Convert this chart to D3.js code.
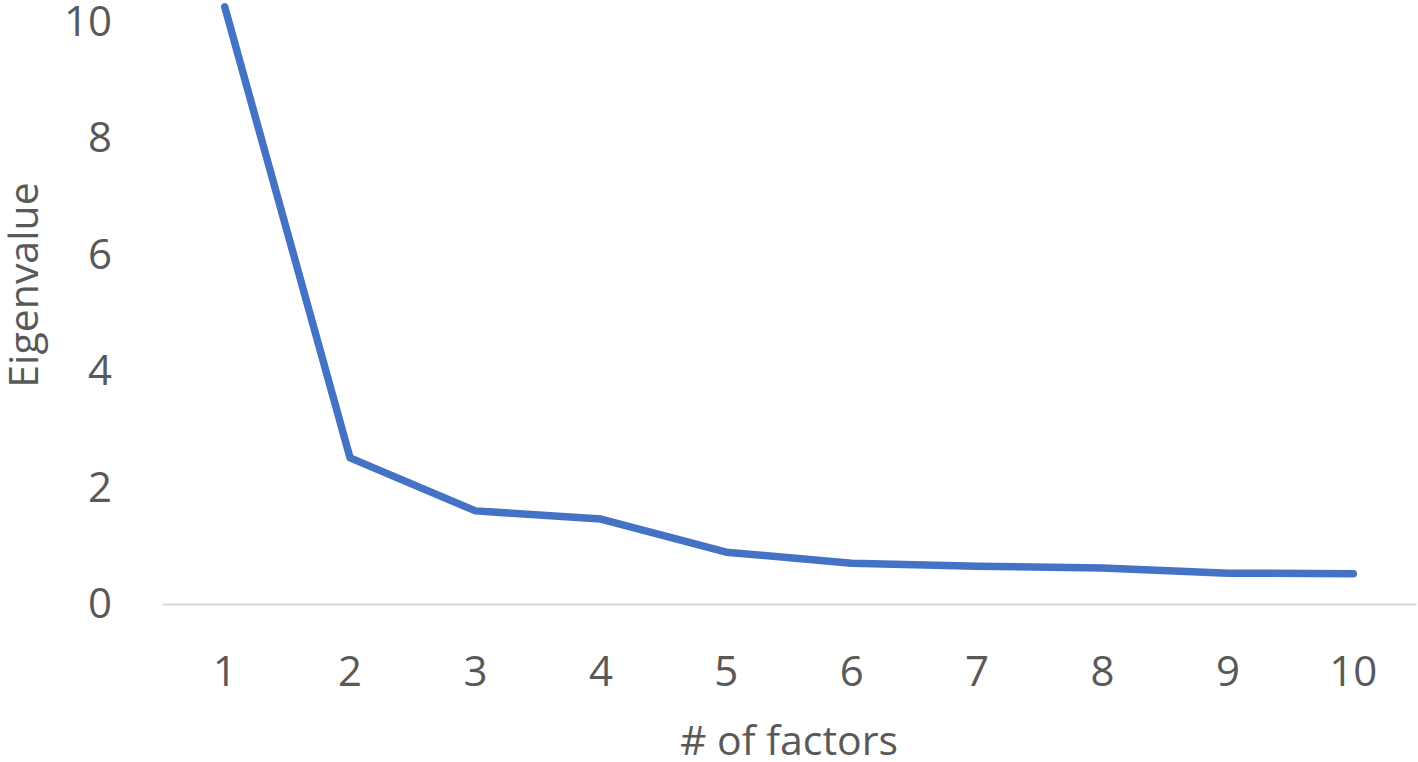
<!DOCTYPE html>
<html lang="en">
<head>
    <meta charset="UTF-8">
    <title>Scree plot</title>
    <script src="https://d3js.org/d3.v7.min.js"></script>
    <style>
        body { margin: 0; background: #fff; }
        svg text { font-family: "Open Sans", "Liberation Sans", sans-serif; fill: #595959; }
    </style>
</head>
<body>
    <svg id="chart" width="1418" height="762"></svg>
    <script>
        const factors = [1, 2, 3, 4, 5, 6, 7, 8, 9, 10];
        const eigenvalues = [10.26, 2.51, 1.60, 1.46, 0.89, 0.70, 0.65, 0.62, 0.53, 0.52];
        const yTicks = [0, 2, 4, 6, 8, 10];

        const svg = d3.select("#chart");
        const margin = { top: 22, right: 2, bottom: 158, left: 162 };
        const width = +svg.attr("width");
        const height = +svg.attr("height");
        const graphWidth = width - margin.left - margin.right;
        const graphHeight = height - margin.top - margin.bottom;

        const g = svg.append("g")
            .attr("transform", `translate(${margin.left},${margin.top})`);

        const x = d3.scaleBand()
            .domain(factors)
            .range([0, graphWidth]);

        const y = d3.scaleLinear()
            .domain([0, 10])
            .range([graphHeight, 0]);

        // x axis
        const xAxis = g.append("g")
            .attr("transform", `translate(0,${graphHeight})`)
            .call(d3.axisBottom(x).tickSize(0).tickPadding(52));
        xAxis.select(".domain").attr("stroke", "#d9d9d9").attr("stroke-width", 2);
        xAxis.selectAll("text").style("font-size", "42px").attr("fill", "#595959");

        // y axis (labels only)
        const yAxis = g.append("g")
            .call(d3.axisLeft(y).tickValues(yTicks).tickSize(0).tickPadding(50));
        yAxis.select(".domain").remove();
        yAxis.selectAll("text").style("font-size", "42px").attr("fill", "#595959");

        const line = d3.line()
            .x((d, i) => x(factors[i]) + x.bandwidth() / 2)
            .y(d => y(d));

        g.append("path")
            .datum(eigenvalues)
            .attr("fill", "none")
            .attr("stroke", "#4472c4")
            .attr("stroke-width", 7.5)
            .attr("stroke-linejoin", "round")
            .attr("stroke-linecap", "round")
            .attr("d", line);

        svg.append("text")
            .attr("x", margin.left + graphWidth / 2)
            .attr("y", 755)
            .attr("text-anchor", "middle")
            .style("font-size", "41px")
            .text("# of factors");

        svg.append("text")
            .attr("text-anchor", "middle")
            .attr("transform", "translate(38,285)rotate(-90)")
            .style("font-size", "41px")
            .text("Eigenvalue");
    </script>
</body>
</html>
